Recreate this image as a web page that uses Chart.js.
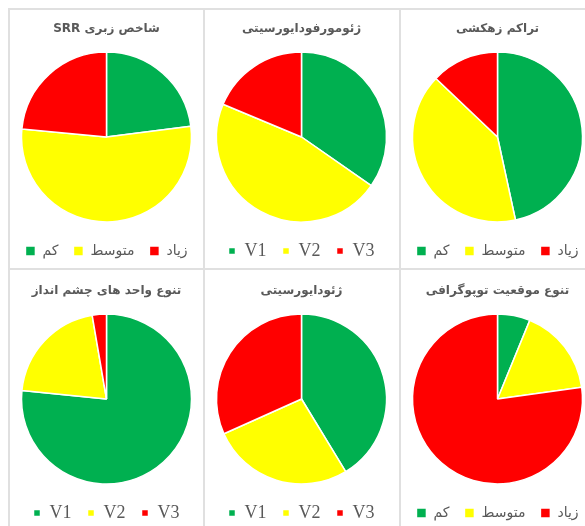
<!DOCTYPE html>
<html>
<head>
<meta charset="utf-8">
<script src="https://cdn.jsdelivr.net/npm/chart.js@4"></script>
<style>
  body { margin: 0; background: #fff; width: 585px; height: 526px; overflow: hidden; position: relative; }
  .cell { position: absolute; border-left: 2px solid #e0e0e0; border-top: 2px solid #e0e0e0; box-sizing: border-box; }
  canvas { position: absolute; }
</style>
</head>
<body>
<div class="cell" style="left:8px;top:8px;width:196px;height:261px"></div>
<div class="cell" style="left:203px;top:8px;width:197px;height:261px"></div>
<div class="cell" style="left:399px;top:8px;width:190px;height:261px"></div>
<div class="cell" style="left:8px;top:268px;width:196px;height:262px"></div>
<div class="cell" style="left:203px;top:268px;width:197px;height:262px"></div>
<div class="cell" style="left:399px;top:268px;width:190px;height:262px"></div>

<canvas id="c0" dir="rtl" style="left:9px;top:9px"></canvas>
<canvas id="c1" dir="rtl" style="left:204px;top:9px"></canvas>
<canvas id="c2" dir="rtl" style="left:400px;top:9px"></canvas>
<canvas id="c3" dir="rtl" style="left:9px;top:271px"></canvas>
<canvas id="c4" dir="rtl" style="left:204px;top:271px"></canvas>
<canvas id="c5" dir="rtl" style="left:400px;top:271px"></canvas>

<script>
// categories
const labelsFa = ['کم', 'متوسط', 'زیاد'];
const labelsV = ['V1', 'V2', 'V3'];

// chart titles
const titles = [
  'شاخص زبری SRR',
  'ژئومورفودایورسیتی',
  'تراکم زهکشی',
  'تنوع واحد های چشم انداز',
  'ژئودایورسیتی',
  'تنوع موقعیت توپوگرافی'
];

// series values (percent of area)
const srrValues = [23, 53.5, 23.5];
const geomorphoValues = [34.7, 46.6, 18.7];
const drainageValues = [46.6, 40.5, 12.9];
const landscapeValues = [76.6, 20.7, 2.7];
const geodiversityValues = [41.3, 27, 31.7];
const topoValues = [6.2, 16.6, 77.2];

const colors = ['#00B050', '#FFFF00', '#FF0000'];

const panels = [
  { labels: labelsFa, values: srrValues },
  { labels: labelsV, values: geomorphoValues },
  { labels: labelsFa, values: drainageValues },
  { labels: labelsV, values: landscapeValues },
  { labels: labelsV, values: geodiversityValues },
  { labels: labelsFa, values: topoValues }
];

const W = 195, H = 272;

panels.forEach((p, i) => {
  const canvas = document.getElementById('c' + i);
  canvas.width = W;
  canvas.height = H;
  canvas.style.width = W + 'px';
  canvas.style.height = H + 'px';

  const isV = p.labels === labelsV;
  const fontSize = isV ? 18 : 14;
  const pad = isV ? 16 : 15;
  const box = isV ? 7 : 10;
  const h = fontSize;
  // keep the pie centre at y=128 and legend text at y=242
  const legendTop = 242 - pad - h / 2;
  const chartTop = 256 - legendTop;
  const titleSize = 12;
  const titleLine = titleSize * 1.2;

  new Chart(canvas.getContext('2d'), {
    type: 'pie',
    data: {
      labels: p.labels,
      datasets: [{
        data: p.values,
        backgroundColor: colors,
        borderColor: '#ffffff',
        borderWidth: 1.5
      }]
    },
    options: {
      responsive: false,
      animation: false,
      radius: 85,
      layout: { padding: { bottom: H - (legendTop + h + pad + 10) } },
      plugins: {
        tooltip: { enabled: false },
        title: {
          display: true,
          text: titles[i],
          color: '#595959',
          font: { family: 'DejaVu Sans', size: titleSize, weight: 'bold' },
          padding: { top: 13, bottom: chartTop - 13 - titleLine }
        },
        legend: {
          position: 'bottom',
          labels: {
            color: '#595959',
            boxWidth: box,
            boxHeight: box,
            padding: pad,
            font: { family: isV ? 'Liberation Serif' : 'DejaVu Sans', size: fontSize }
          }
        }
      }
    }
  });
});
</script>
</body>
</html>
